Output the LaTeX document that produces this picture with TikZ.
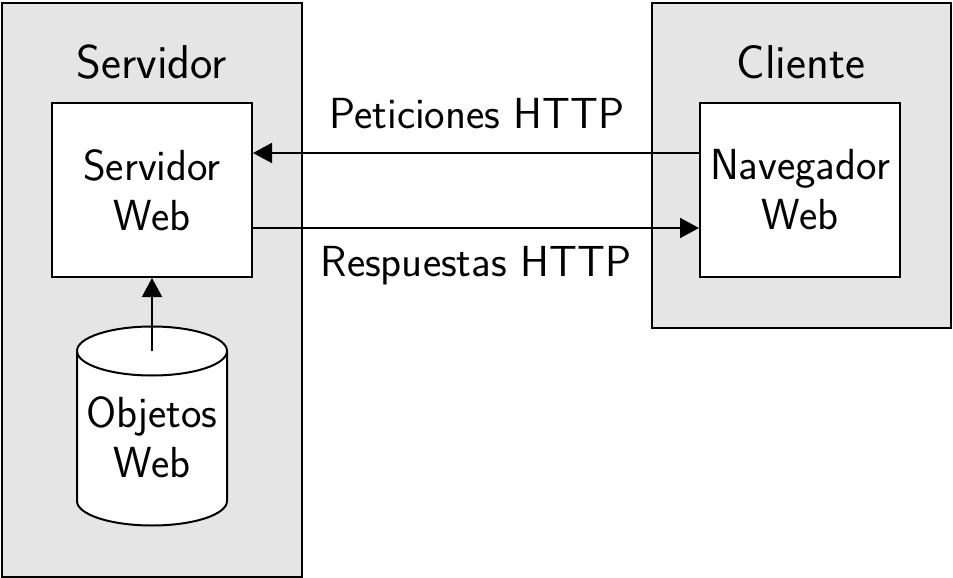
\documentclass[tikz,border=0pt]{standalone}
\usepackage{fontspec}
\usetikzlibrary{arrows.meta}
\tikzset{
  group/.style={draw, fill=gray!20, inner sep=0pt, anchor=north west},
  inbox/.style={draw, fill=white, minimum width=200pt, minimum height=174pt, align=center, inner sep=0pt},
  arr/.style={-{Triangle[length=19pt,width=20pt]}},
  lbl/.style={anchor=base, inner sep=0pt},
  grouplbl/.style={anchor=base, inner sep=0pt, font=\sffamily\fontsize{47.5}{55}\selectfont}
}
\begin{document}
\begin{tikzpicture}[x=1pt, y=-1pt, line width=2pt, font=\sffamily\fontsize{43.5}{50}\selectfont]
\useasboundingbox (0,0) rectangle (953,578);
% outer groups
\node[group, minimum width=300pt, minimum height=574pt] (srv) at (1,2) {};
\node[group, minimum width=299pt, minimum height=325pt] (cli) at (651,2) {};
\node[grouplbl] (srvlbl) at (152,78) {Servidor};
\node[grouplbl] (clilbl) at (801,78) {Cliente};
% inner boxes
\node[inbox] (sw) at (152,190) {Servidor\\Web};
\node[inbox] (nav) at (800,190) {Navegador\\Web};
% cylinder
\filldraw[fill=white] (77,351) -- (77,501) arc (180:0:75 and 24.5) -- (227,351) arc (0:-180:75 and 24.5) -- cycle;
\draw (77,351) arc (180:0:75 and 24.5);
\coordinate (objtop) at (152,351);
\node[align=center, inner sep=0pt] (obj) at (152,437) {Objetos\\Web};
% connectors
\draw[arr] ([yshift=37pt]nav.west) -- ([yshift=37pt]sw.east);
\draw[arr] ([yshift=-38pt]sw.east) -- ([yshift=-38pt]nav.west);
\draw[arr] (objtop) -- (sw.south);
\node[lbl] (pet) at (477,128) {Peticiones HTTP};
\node[lbl] (res) at (476,276) {Respuestas HTTP};
\end{tikzpicture}
\end{document}
